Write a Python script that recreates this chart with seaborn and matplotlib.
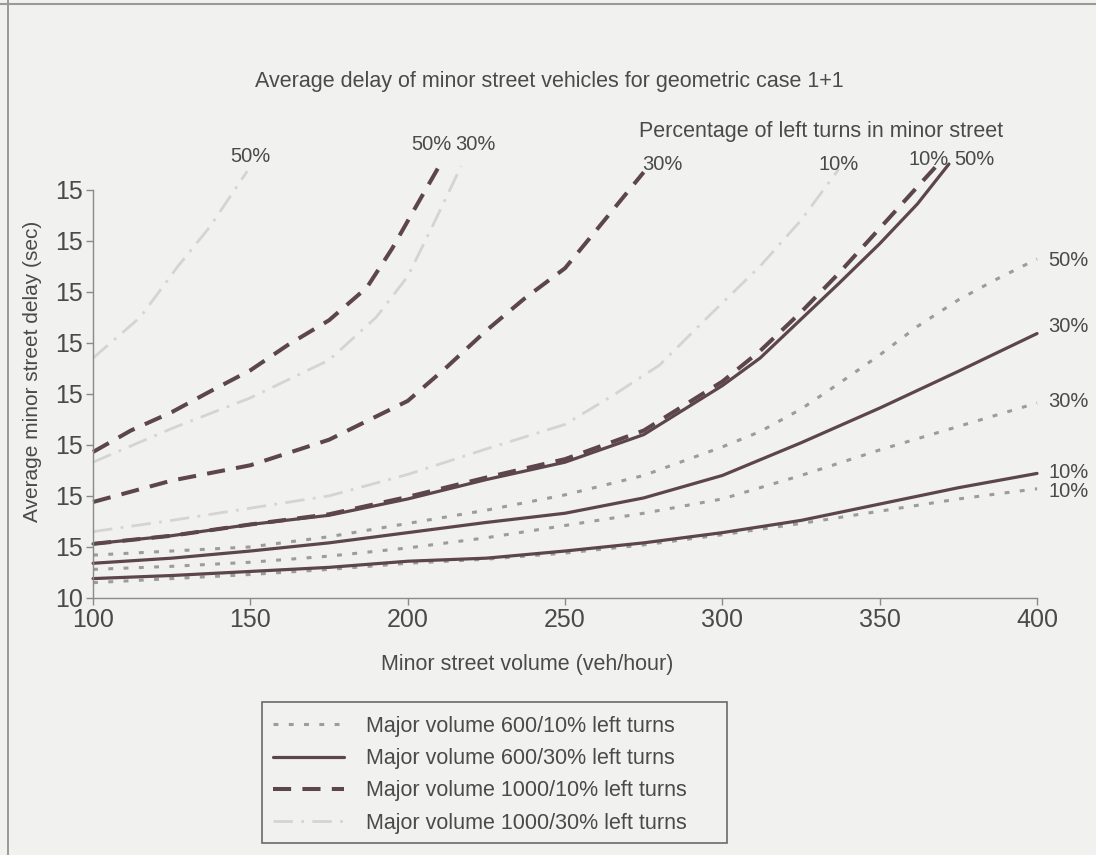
import matplotlib
matplotlib.use("Agg")
import matplotlib.pyplot as plt
from matplotlib.lines import Line2D
from matplotlib.patches import Rectangle
import pandas as pd
import seaborn as sns

# ---------- data ----------
volume = [100, 125, 150, 175, 200, 225, 250, 275, 300, 325, 350, 375, 400]

# major volume 600, 10% left turns (minor street left-turn share 10/30/50%)
maj600_lt10_10 = [11.5, 11.9, 12.3, 12.8, 13.4, 13.8, 14.4, 15.2, 16.2, 17.3, 18.5, 19.7, 20.7]
maj600_lt10_30 = [12.8, 13.1, 13.5, 14.1, 14.9, 15.9, 17.1, 18.3, 19.7, 22.0, 24.5, 26.8, 29.1]
vol_600_10_50 = [100, 125, 150, 175, 200, 225, 250, 275, 300, 312, 325, 337, 350, 362, 375, 387, 400]
maj600_lt10_50 = [14.2, 14.6, 15.0, 16.0, 17.3, 18.6, 20.1, 22.0, 24.8, 26.3, 28.5, 31.0,
                  33.8, 36.6, 39.2, 41.2, 43.2]

# major volume 600, 30% left turns
maj600_lt30_10 = [11.9, 12.2, 12.6, 13.0, 13.6, 13.9, 14.6, 15.4, 16.4, 17.6, 19.2, 20.8, 22.2]
maj600_lt30_30 = [13.4, 13.9, 14.6, 15.4, 16.4, 17.4, 18.3, 19.8, 22.0, 25.2, 28.6, 32.2, 35.9]
vol_600_30_50 = [100, 125, 150, 175, 200, 225, 250, 275, 300, 312, 325, 337, 350, 362, 372]
maj600_lt30_50 = [15.3, 16.1, 17.2, 18.1, 19.7, 21.6, 23.3, 26.0, 30.8, 33.5, 37.3, 40.8,
                  44.7, 48.6, 52.5]

# major volume 1000, 10% left turns
vol_1000_10_10 = [100, 125, 150, 175, 200, 225, 250, 275, 300, 312, 325, 337, 350, 360, 368]
maj1000_lt10_10 = [15.3, 16.1, 17.2, 18.2, 19.9, 21.8, 23.6, 26.4, 31.2, 34.2, 38.0, 41.8,
                   46.2, 49.6, 52.3]
vol_1000_10_30 = [100, 125, 150, 175, 200, 212, 225, 237, 250, 262, 275]
maj1000_lt10_30 = [19.4, 21.5, 23.0, 25.5, 29.3, 32.5, 36.2, 39.3, 42.3, 46.8, 51.7]
vol_1000_10_50 = [100, 112, 125, 137, 150, 162, 175, 187, 195, 202, 210]
maj1000_lt10_50 = [24.3, 26.4, 28.2, 30.2, 32.3, 34.8, 37.2, 40.4, 44.2, 48.0, 52.3]

# major volume 1000, 30% left turns
vol_1000_30_10 = [100, 125, 150, 175, 200, 225, 250, 265, 280, 295, 312, 325, 337]
maj1000_lt30_10 = [16.5, 17.6, 18.8, 20.0, 22.1, 24.6, 27.0, 29.8, 32.8, 37.4, 42.5, 47.0, 52.0]
vol_1000_30_30 = [100, 125, 150, 175, 190, 200, 208, 217]
maj1000_lt30_30 = [23.3, 26.6, 29.6, 33.3, 37.5, 41.5, 46.5, 52.3]
vol_1000_30_50 = [100, 115, 127, 137, 149]
maj1000_lt30_50 = [33.5, 37.5, 42.5, 46.3, 51.8]

scenario_labels = [
    "Major volume 600/10% left turns",
    "Major volume 600/30% left turns",
    "Major volume 1000/10% left turns",
    "Major volume 1000/30% left turns",
]
ytick_values = [10, 15, 20, 25, 30, 35, 40, 45, 50]
ytick_labels = ["10", "15", "15", "15", "15", "15", "15", "15", "15"]
xtick_values = [100, 150, 200, 250, 300, 350, 400]

curves = [
    (0, "10%", volume, maj600_lt10_10),
    (0, "30%", volume, maj600_lt10_30),
    (0, "50%", vol_600_10_50, maj600_lt10_50),
    (1, "10%", volume, maj600_lt30_10),
    (1, "30%", volume, maj600_lt30_30),
    (1, "50%", vol_600_30_50, maj600_lt30_50),
    (2, "10%", vol_1000_10_10, maj1000_lt10_10),
    (2, "30%", vol_1000_10_30, maj1000_lt10_30),
    (2, "50%", vol_1000_10_50, maj1000_lt10_50),
    (3, "10%", vol_1000_30_10, maj1000_lt30_10),
    (3, "30%", vol_1000_30_30, maj1000_lt30_30),
    (3, "50%", vol_1000_30_50, maj1000_lt30_50),
]
frames = []
for k, pct, xs, ys in curves:
    frames.append(pd.DataFrame({"volume": xs, "delay": ys,
                                "scenario": scenario_labels[k], "pct": pct}))
df = pd.concat(frames, ignore_index=True)

# ---------- styling ----------
sns.set_theme(style="white")
plt.rcParams["font.family"] = ["Liberation Sans", "DejaVu Sans"]

BG = "#f1f1f0"
DARK = "#5c454c"
TXT = "#4a4a4a"
FS = 15.5
styles = {
    scenario_labels[0]: dict(color="#9c9c9c", linestyle=(0, (1.6, 3.4)), linewidth=2.2),
    scenario_labels[1]: dict(color=DARK, linestyle="-", linewidth=2.3),
    scenario_labels[2]: dict(color=DARK, linestyle=(0, (4.5, 2.8)), linewidth=2.9),
    scenario_labels[3]: dict(color="#d4d4d4", linestyle=(0, (7, 3, 1, 3)), linewidth=2.0),
}

fig = plt.figure(figsize=(10.96, 8.55), dpi=100, facecolor=BG)
ax = fig.add_axes([0.0849, 0.3006, 0.8613, 0.5135])
ax.set_facecolor(BG)

# draw light ones first so the dark lines sit on top
for scen in [scenario_labels[3], scenario_labels[0], scenario_labels[1], scenario_labels[2]]:
    sub = df[df["scenario"] == scen]
    for pct in ["10%", "30%", "50%"]:
        d = sub[sub["pct"] == pct]
        sns.lineplot(data=d, x="volume", y="delay", ax=ax, sort=False,
                     estimator=None, legend=False, clip_on=False, **styles[scen])

ax.set_xlim(100, 400)
ax.set_ylim(10, 53)
ax.set_xticks(xtick_values)
ax.set_xticklabels([str(v) for v in xtick_values])
ax.set_yticks(ytick_values)
ax.set_yticklabels(ytick_labels)
for side in ["top", "right"]:
    ax.spines[side].set_visible(False)
ax.spines["left"].set_bounds(10, 50)
for side in ["left", "bottom"]:
    ax.spines[side].set_color("#8a8a8a")
    ax.spines[side].set_linewidth(1.0)
ax.tick_params(axis="both", which="major", direction="out", length=5, width=1,
               color="#8a8a8a", labelsize=18, labelcolor=TXT, pad=2,
               left=True, bottom=True)
ax.set_xlabel("")
ax.set_ylabel("")

# curve end labels
pct_fs = 14.5
top_labels = [(150, 53.2, "50%"), (207.5, 54.4, "50%"), (221.5, 54.4, "30%"),
              (281, 52.5, "30%"), (337, 52.5, "10%"), (365.5, 52.9, "10%"),
              (380, 52.9, "50%")]
for x, y, s in top_labels:
    ax.text(x, y, s, ha="center", va="center", fontsize=pct_fs, color=TXT, clip_on=False)
right_labels = [(43.1, "50%"), (36.6, "30%"), (29.2, "30%"), (22.3, "10%"), (20.4, "10%")]
for y, s in right_labels:
    ax.text(403.5, y, s, ha="left", va="center", fontsize=pct_fs, color=TXT, clip_on=False)

fig.text(549 / 1096, 1 - 82 / 855, "Average delay of minor street vehicles for geometric case 1+1",
         ha="center", va="center", fontsize=FS, color=TXT)
fig.text(821 / 1096, 1 - 132 / 855, "Percentage of left turns in minor street",
         ha="center", va="center", fontsize=FS, color=TXT)
fig.text(33 / 1096, 1 - 371 / 855, "Average minor street delay (sec)", rotation=90,
         ha="center", va="center", fontsize=15, color=TXT)
fig.text(527 / 1096, 1 - 664 / 855, "Minor street volume (veh/hour)",
         ha="center", va="center", fontsize=FS, color=TXT)

# legend with a hand-placed box
handles = [Line2D([], [], **styles[s]) for s in scenario_labels]
fig.legend(handles, scenario_labels, loc="upper left",
           bbox_to_anchor=(273 / 1096, 1 - 716 / 855), frameon=False,
           fontsize=FS, handlelength=3.3, handletextpad=1.0, labelspacing=0.52,
           borderaxespad=0, borderpad=0, labelcolor=TXT)
fig.patches.append(Rectangle((262 / 1096, 1 - 843 / 855), 465 / 1096, 141 / 855,
                             transform=fig.transFigure, fill=False,
                             edgecolor="#6a6a6a", linewidth=1.2))

# page border remnants of the scanned box
fig.add_artist(Line2D([8 / 1096, 8 / 1096], [0, 1], transform=fig.transFigure,
                      color="#8a8a8a", linewidth=1.2))
fig.add_artist(Line2D([0, 1], [1 - 4 / 855, 1 - 4 / 855], transform=fig.transFigure,
                      color="#9a9a9a", linewidth=1.5))

fig.savefig("out.png", dpi=100, facecolor=BG)
